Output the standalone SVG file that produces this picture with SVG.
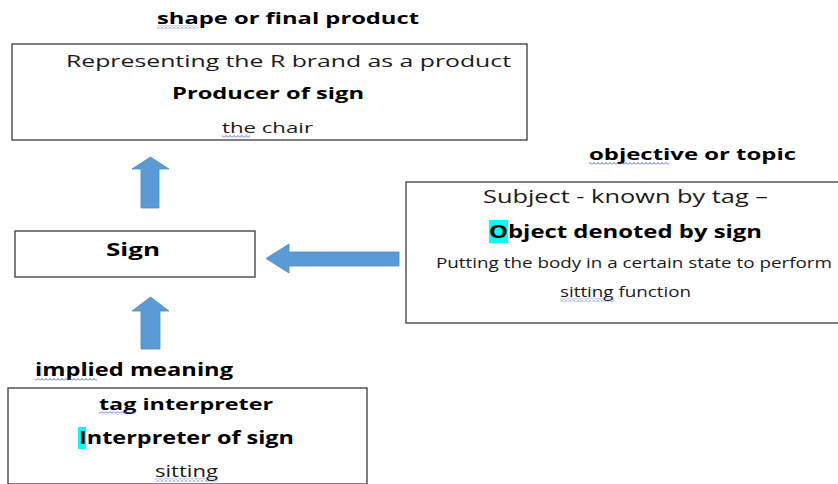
<svg xmlns="http://www.w3.org/2000/svg" width="838" height="484" viewBox="0 0 838 484">
<defs>
<style>
.box{fill:#fff;stroke:#3a3a3a;stroke-width:1.3}
.arr{fill:#5b9bd5;stroke:#4f8cc6;stroke-width:0.8}
text{font-family:"Open Sans","Liberation Sans",sans-serif;fill:#1a1a1a}
.b{font-weight:bold;fill:#000}
.hl{fill:#00ffff}
</style>
<pattern id="wave" width="4" height="3" patternUnits="userSpaceOnUse">
<path d="M0,2.5 L2,0.5 L4,2.5" fill="none" stroke="#3b5bdb" stroke-width="0.9"/>
</pattern>
</defs>
<rect width="838" height="484" fill="#fff"/>
<g id="connectors">
<polygon class="arr" points="150.5,157 169,169 159,169 159,208 141,208 141,169 132,169"/>
<polygon class="arr" points="266,258.5 289,244 289,252 399,252 399,266 289,266 289,273"/>
<polygon class="arr" points="150.5,297 169,311 160,311 160,349 141,349 141,311 132,311"/>
</g>
<g id="label-shape">
<text class="b" x="157" y="23.5" font-size="16.5" textLength="262" lengthAdjust="spacingAndGlyphs">shape or final product</text>
<rect x="157" y="25.5" width="41" height="3" fill="url(#wave)"/>
</g>
<g id="node-producer">
<rect class="box" x="12" y="44" width="515" height="96"/>
<text x="66" y="66.5" font-size="17" textLength="445" lengthAdjust="spacingAndGlyphs">Representing the R brand as a product</text>
<text class="b" x="172" y="99" font-size="16" textLength="192" lengthAdjust="spacingAndGlyphs">Producer of sign</text>
<text x="222" y="133" font-size="15" textLength="91" lengthAdjust="spacingAndGlyphs">the chair</text>
<rect x="222" y="135" width="28" height="3" fill="url(#wave)"/>
</g>
<g id="label-objective">
<text class="b" x="589" y="160" font-size="16.5" textLength="207" lengthAdjust="spacingAndGlyphs">objective or topic</text>
<rect x="589" y="162" width="80" height="3" fill="url(#wave)"/>
</g>
<g id="node-object">
<rect class="box" x="406" y="182" width="436" height="141"/>
<text x="483" y="203" font-size="17.5" textLength="285" lengthAdjust="spacingAndGlyphs">Subject - known by tag –</text>
<rect class="hl" x="489" y="220" width="19" height="23"/>
<text class="b" x="489" y="237.5" font-size="17.5" textLength="273" lengthAdjust="spacingAndGlyphs">Object denoted by sign</text>
<text x="436" y="267.5" font-size="14" textLength="396" lengthAdjust="spacingAndGlyphs">Putting the body in a certain state to perform</text>
<text x="560" y="296.5" font-size="14" textLength="131" lengthAdjust="spacingAndGlyphs">sitting function</text>
<rect x="560" y="298.5" width="54" height="3" fill="url(#wave)"/>
</g>
<g id="node-sign">
<rect class="box" x="15" y="231" width="240" height="46"/>
<text class="b" x="106" y="255.5" font-size="17.5" textLength="54" lengthAdjust="spacingAndGlyphs">Sign</text>
</g>
<g id="label-implied">
<text class="b" x="35" y="376" font-size="17" textLength="198" lengthAdjust="spacingAndGlyphs">implied meaning</text>
<rect x="35" y="378" width="62" height="3" fill="url(#wave)"/>
</g>
<g id="node-interpreter">
<rect class="box" x="8" y="388" width="359" height="96"/>
<text class="b" x="99" y="409.5" font-size="16" textLength="174" lengthAdjust="spacingAndGlyphs">tag interpreter</text>
<rect x="99" y="411.5" width="36" height="3" fill="url(#wave)"/>
<rect class="hl" x="78" y="427" width="8" height="22"/>
<text class="b" x="79" y="443.5" font-size="17.5" textLength="215" lengthAdjust="spacingAndGlyphs">Interpreter of sign</text>
<text x="155" y="476.5" font-size="15.5" textLength="63" lengthAdjust="spacingAndGlyphs">sitting</text>
<rect x="155" y="478.5" width="63" height="3" fill="url(#wave)"/>
</g>
</svg>
